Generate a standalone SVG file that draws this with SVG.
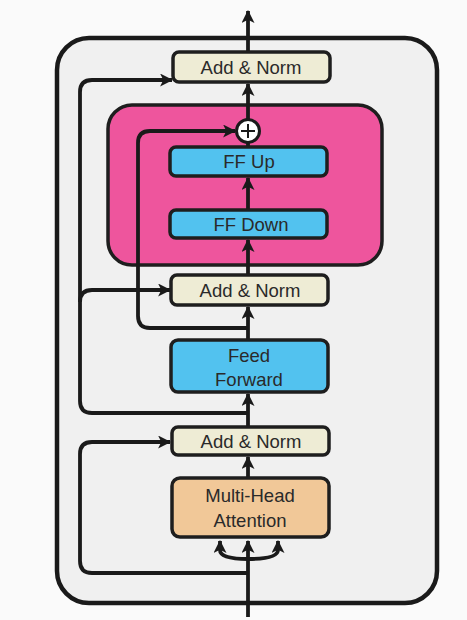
<svg xmlns="http://www.w3.org/2000/svg" width="467" height="620" viewBox="0 0 467 620">
<style>
.box{stroke:#1e1e1e;stroke-width:3.5}
.norm{fill:#eeecd5}
.blue{fill:#52c2ef}
.orange{fill:#f1c898}
.txt{font-family:"Liberation Sans",Arial,sans-serif;font-size:18.5px;text-anchor:middle;fill:#2a2a2a}
.ln{fill:none;stroke:#1a1a1a;stroke-width:3.8;stroke-linejoin:round}
</style>
<defs>
<marker id="ah" viewBox="0 0 12 12" refX="11" refY="6" markerWidth="13" markerHeight="13" markerUnits="userSpaceOnUse" orient="auto">
<path d="M0,0 L12,6 L0,12 L3,6 Z" fill="#1a1a1a"/>
</marker>
</defs>
<rect width="467" height="620" fill="#fafafa"/>
<g id="outer">
<rect x="57" y="38" width="380" height="565" rx="32" fill="#f0f0f0" stroke="#1a1a1a" stroke-width="4.5"/>
</g>
<g id="adapter">
<rect x="108" y="105" width="274" height="160" rx="24" fill="#ee559d" class="box"/>
</g>
<g id="connectors">
<path class="ln" d="M248,617 V541" marker-end="url(#ah)"/>
<path class="ln" d="M248,559 Q220,559 220,550 V541" marker-end="url(#ah)"/>
<path class="ln" d="M248,559 Q278,559 278,550 V541" marker-end="url(#ah)"/>
<path class="ln" d="M248,573 H92 Q80,573 80,561 V454 Q80,442 92,442 H170" marker-end="url(#ah)"/>
<path class="ln" d="M248,478 V457" marker-end="url(#ah)"/>
<path class="ln" d="M248,427 V394" marker-end="url(#ah)"/>
<path class="ln" d="M248,413 H92 Q80,413 80,401 V92 Q80,80 92,80 H172" marker-end="url(#ah)"/>
<path class="ln" d="M80,302 Q80,290 92,290 H170" marker-end="url(#ah)"/>
<path class="ln" d="M248,340 V307" marker-end="url(#ah)"/>
<path class="ln" d="M248,328 H150 Q138,328 138,316 V143 Q138,131 150,131 H235" marker-end="url(#ah)"/>
<path class="ln" d="M248,275 V240" marker-end="url(#ah)"/>
<path class="ln" d="M248,210 V178" marker-end="url(#ah)"/>
<path class="ln" d="M248,147 V143"/>
<path class="ln" d="M248,119 V84" marker-end="url(#ah)"/>
<path class="ln" d="M248,52 V11" marker-end="url(#ah)"/>
</g>
<g id="plus">
<circle cx="248" cy="131" r="11.5" fill="#ffffff" stroke="#1a1a1a" stroke-width="3"/>
<path d="M241,131 H255 M248,124 V138" stroke="#1a1a1a" stroke-width="2"/>
</g>
<g id="norm-top">
<rect x="173" y="52" width="157" height="30" rx="6" class="box norm"/>
<text x="251" y="73.5" class="txt">Add &amp; Norm</text>
</g>
<g id="ff-up">
<rect x="170" y="147" width="157" height="29" rx="6" class="box blue"/>
<text x="249" y="168" class="txt">FF Up</text>
</g>
<g id="ff-down">
<rect x="170" y="210" width="157" height="28" rx="6" class="box blue"/>
<text x="251" y="230.5" class="txt">FF Down</text>
</g>
<g id="norm-mid">
<rect x="171" y="275" width="157" height="30" rx="6" class="box norm"/>
<text x="250" y="296.5" class="txt">Add &amp; Norm</text>
</g>
<g id="feed-forward">
<rect x="171" y="340" width="157" height="52" rx="7" class="box blue"/>
<text x="249" y="361.5" class="txt">Feed</text>
<text x="249" y="385.5" class="txt">Forward</text>
</g>
<g id="norm-bot">
<rect x="172" y="427" width="157" height="28" rx="6" class="box norm"/>
<text x="251" y="447.5" class="txt">Add &amp; Norm</text>
</g>
<g id="mha">
<rect x="172" y="478" width="157" height="59" rx="8" class="box orange"/>
<text x="250" y="502" class="txt">Multi-Head</text>
<text x="250" y="527" class="txt">Attention</text>
</g>
</svg>
